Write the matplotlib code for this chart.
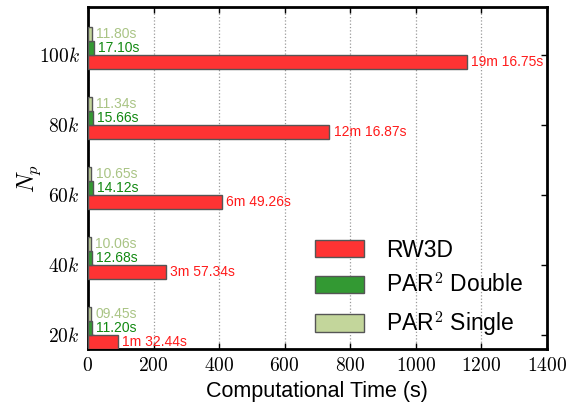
import numpy as np
import matplotlib
matplotlib.use("Agg")
import matplotlib.pyplot as plt

# Run times in seconds for each particle count
particles = ["20k", "40k", "60k", "80k", "100k"]
rw3d = [92.44, 237.34, 409.26, 736.87, 1156.75]
par2_double = [11.20, 12.68, 14.12, 15.66, 17.10]
par2_single = [9.45, 10.06, 10.65, 11.34, 11.80]
xticks = [0, 200, 400, 600, 800, 1000, 1200, 1400]

plt.rcParams["font.family"] = ["Liberation Sans", "DejaVu Sans"]
plt.rcParams["mathtext.fontset"] = "cm"


def fmt_time(t):
    m, s = divmod(t, 60)
    if m >= 1:
        return "%dm %05.2fs" % (m, s)
    return "%05.2fs" % s


fig = plt.figure(figsize=(5.75, 4.08), dpi=100)
ax = fig.add_axes([0.153, 0.1446, 0.798, 0.8384])

ind = np.arange(len(particles))
w = 0.2
edge = "#555555"

b1 = ax.barh(ind - w, rw3d, w, align="edge", color="#ff3333",
             edgecolor=edge, linewidth=1, label="RW3D", zorder=3)
b2 = ax.barh(ind, par2_double, w, align="edge", color="#339933",
             edgecolor=edge, linewidth=1, label=r"PAR$^2$ Double", zorder=3)
b3 = ax.barh(ind + w, par2_single, w, align="edge", color="#c3d69b",
             edgecolor=edge, linewidth=1, label=r"PAR$^2$ Single", zorder=3)

for bars, vals, col in [(b1, rw3d, "#ff1a1a"), (b2, par2_double, "#118811"),
                        (b3, par2_single, "#a9c484")]:
    for bar, v in zip(bars, vals):
        ax.annotate(fmt_time(v), (v, bar.get_y() + bar.get_height() / 2),
                    xytext=(3, 0), textcoords="offset points",
                    ha="left", va="center", fontsize=10, color=col, zorder=4)

ax.set_xlim(0, 1400)
ax.set_ylim(-w, 4.68)
ax.set_xticks(xticks)
ax.set_xticklabels([r"$%d$" % x for x in xticks], fontsize=14)
ax.set_yticks(ind)
ax.set_yticklabels([r"$%s$" % p for p in particles], fontsize=14)
ax.tick_params(direction="in", length=4, width=1, top=True, right=True, pad=6)

ax.xaxis.grid(True, linestyle=":", color="#999999", linewidth=0.9, zorder=0)
for s in ax.spines.values():
    s.set_linewidth(2)

ax.set_xlabel("Computational Time (s)", fontsize=15.5, labelpad=4)
ax.set_ylabel(r"$N_p$", fontsize=17, labelpad=-3)

ax.legend(loc="lower right", bbox_to_anchor=(0.995, -0.03), frameon=False,
          fontsize=16.5, handlelength=2.18, handleheight=0.79,
          handletextpad=0.96, labelspacing=0.51)

fig.savefig("out.png", dpi=100)
